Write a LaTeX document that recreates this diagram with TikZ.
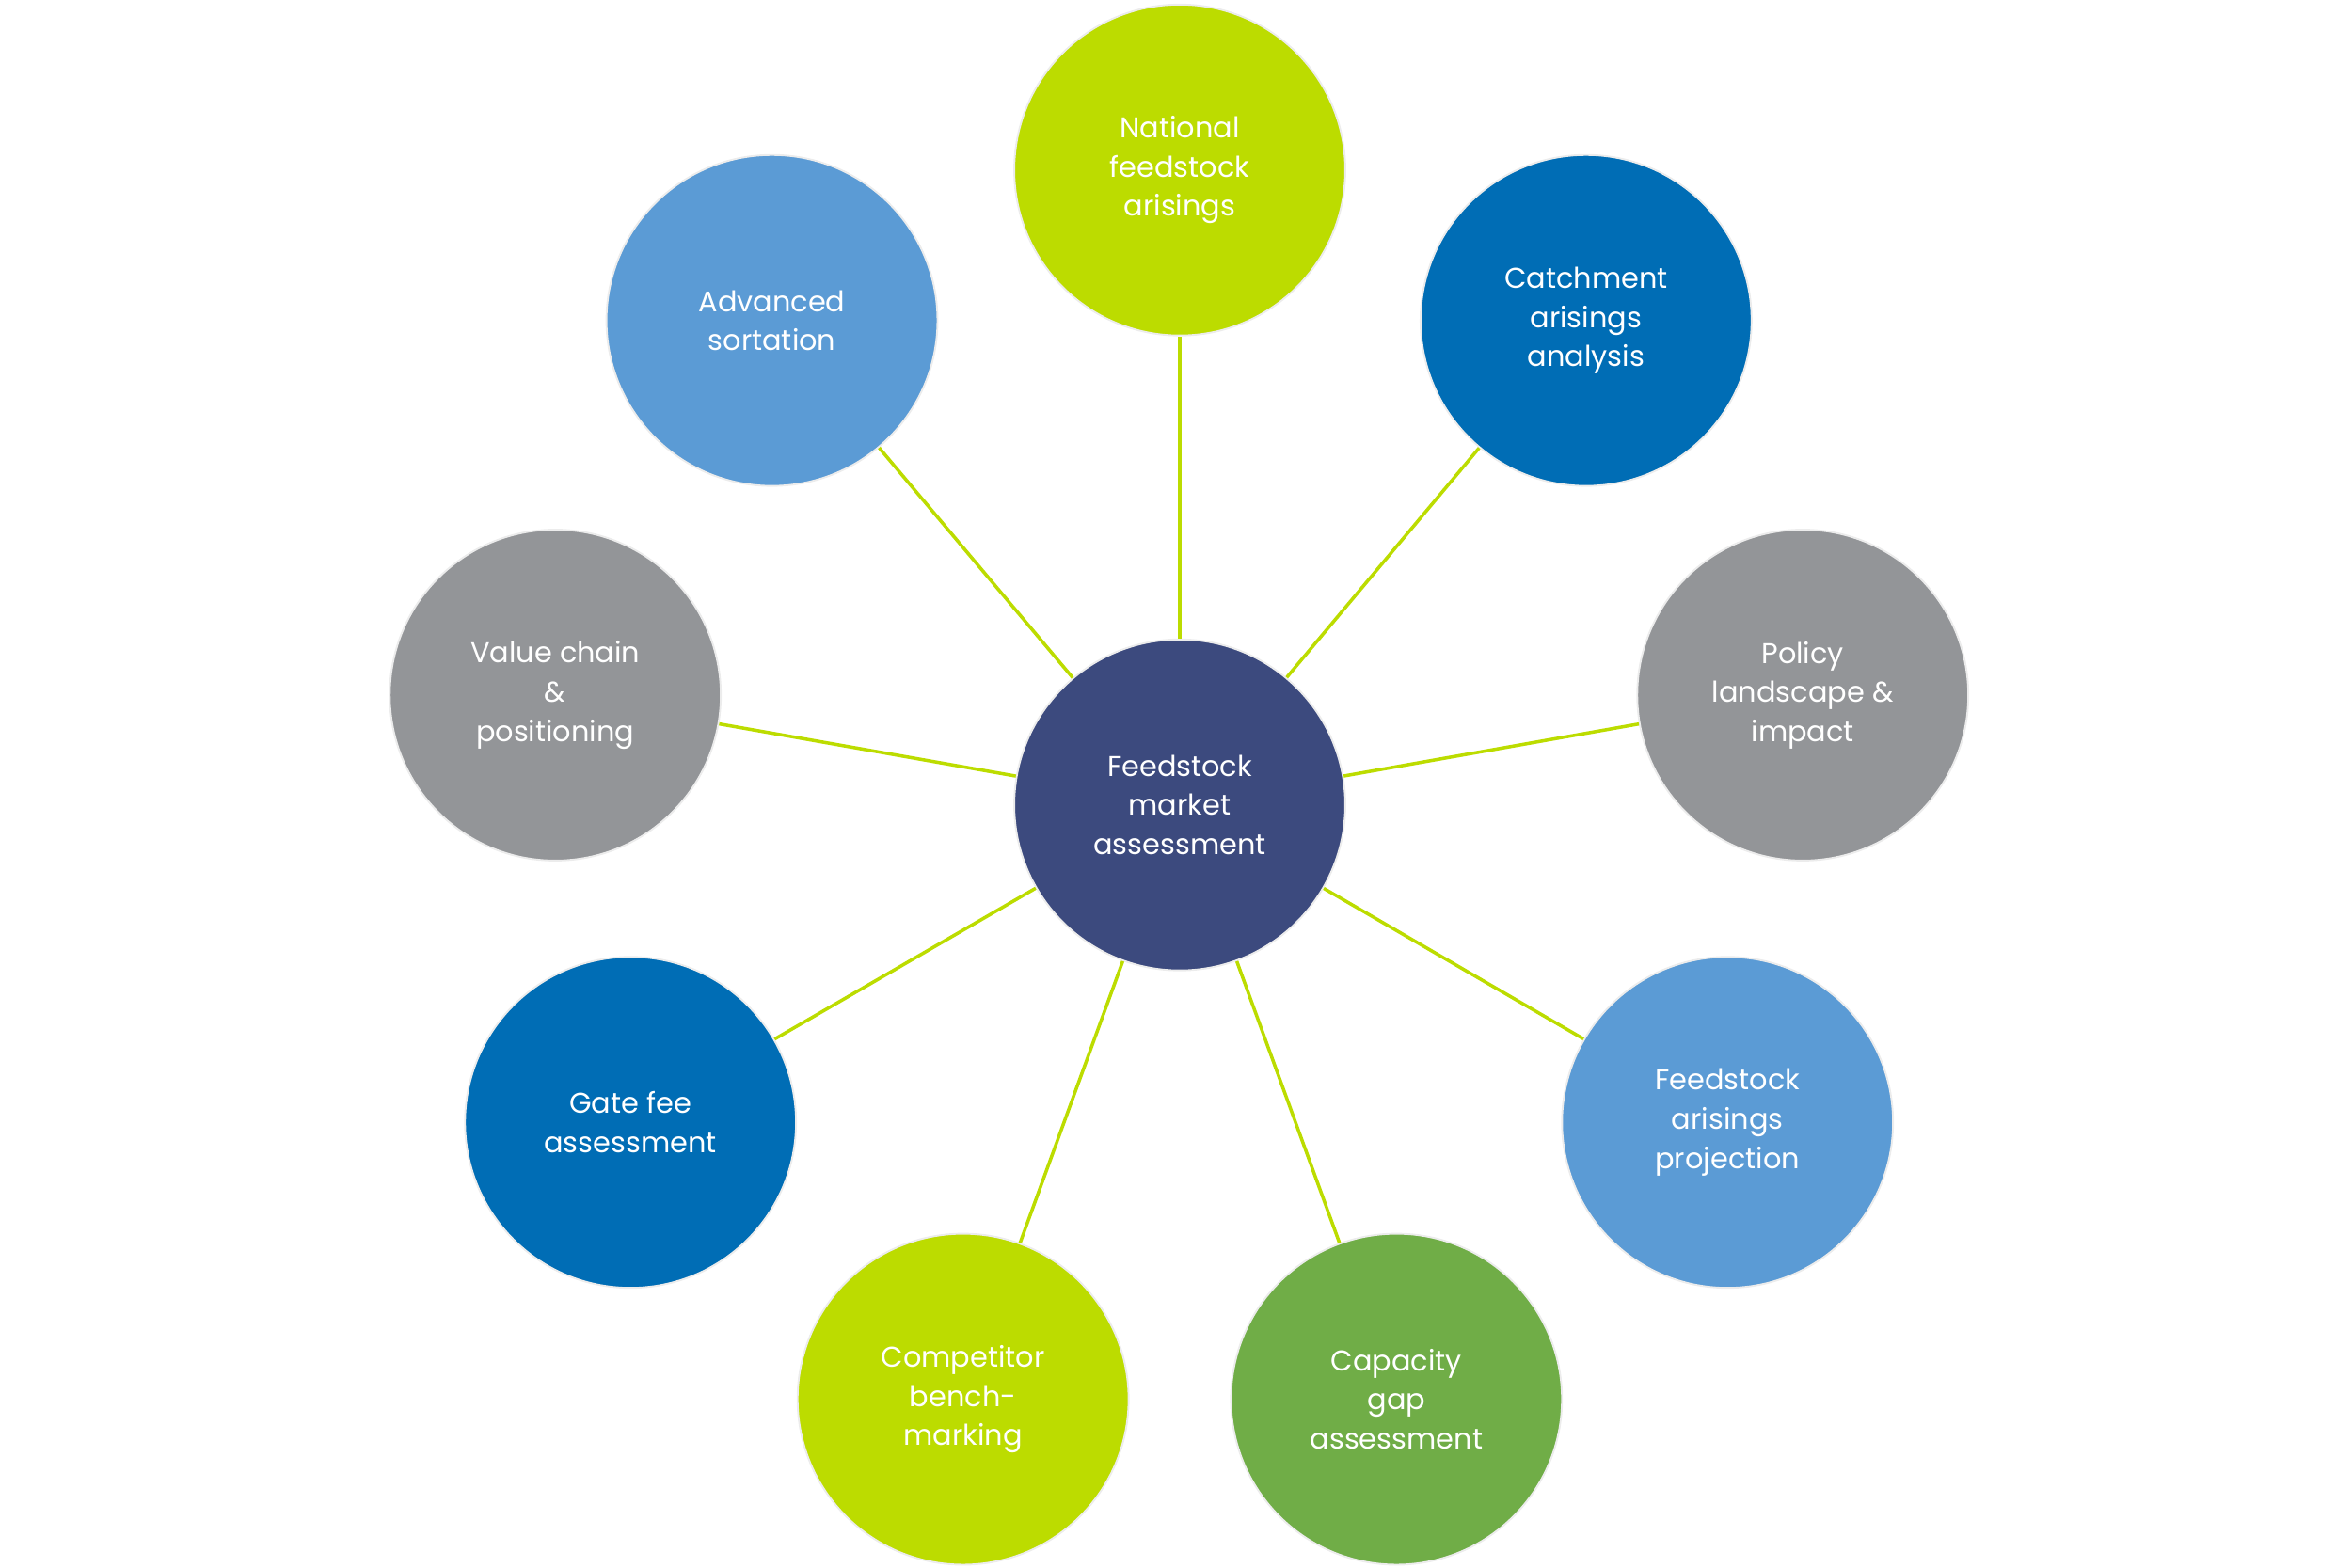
\documentclass[tikz,border=0pt]{standalone}
\usepackage{fontspec}
\setmainfont{Poppins}
\definecolor{lime}{HTML}{BCDC00}
\definecolor{dblue}{HTML}{006DB5}
\definecolor{lblue}{HTML}{5B9BD5}
\definecolor{gry}{HTML}{939598}
\definecolor{dgreen}{HTML}{70AD47}
\definecolor{navy}{HTML}{3C4A7E}
\begin{document}
\begin{tikzpicture}[x=1pt,y=-1pt,
  bub/.style={circle,minimum size=220pt,inner sep=0pt,draw=gray!15,line width=1.2pt,text=white,align=center,
    font=\fontsize{19}{26}\selectfont},
  link/.style={draw=lime,line width=2.2pt}]
\useasboundingbox (0,0) rectangle (1563,1042);
\node[bub,fill=navy] (c) at (784,535) {Feedstock\\market\\assessment};
\node[bub,fill=lime] (n1) at (784,113) {National\\feedstock\\arisings};
\node[bub,fill=dblue] (n2) at (1054,213) {Catchment\\arisings\\analysis};
\node[bub,fill=gry] (n3) at (1198,462) {Policy\\landscape \&\\impact};
\node[bub,fill=lblue] (n4) at (1148,746) {Feedstock\\arisings\\projection};
\node[bub,fill=dgreen] (n5) at (928,930) {Capacity\\gap\\assessment};
\node[bub,fill=lime] (n6) at (640,930) {Competitor\\bench-\\marking};
\node[bub,fill=dblue] (n7) at (419,746) {Gate fee\\assessment};
\node[bub,fill=gry] (n8) at (369,462) {Value chain\\\&\\positioning};
\node[bub,fill=lblue] (n9) at (513,213) {Advanced\\sortation};
\foreach \n in {n1,n2,n3,n4,n5,n6,n7,n8,n9} \draw[link] (c) -- (\n);
\end{tikzpicture}
\end{document}
